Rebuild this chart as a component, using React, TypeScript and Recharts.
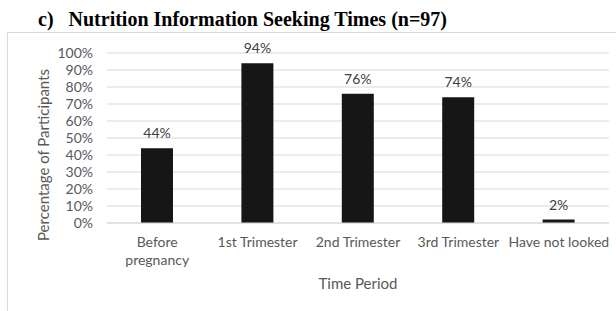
import React from 'react';
import { BarChart, Bar, XAxis, YAxis, CartesianGrid, LabelList } from 'recharts';

const categories = ['Before\npregnancy', '1st Trimester', '2nd Trimester', '3rd Trimester', 'Have not looked'];
const percentages = [44, 94, 76, 74, 2];
const yTicks = [0, 10, 20, 30, 40, 50, 60, 70, 80, 90, 100];

const chartData = categories.map((name, i) => ({ name, value: percentages[i] }));

const FONT = 'Lato, "Open Sans", sans-serif';
const GRAY = '#595959';

const CategoryTick = (props: any) => {
  const { x, y, payload } = props;
  const lines = String(payload.value).split('\n');
  return (
    <text x={x} y={y} textAnchor="middle" fill={GRAY} fontSize={14} fontFamily={FONT}>
      {lines.map((line, i) => (
        <tspan key={i} x={x} dy={i === 0 ? 16 : 18}>
          {line}
        </tspan>
      ))}
    </text>
  );
};

const App = () => {
  return (
    <div style={{ position: 'absolute', left: 0, top: 0, width: 616, height: 311, background: '#fff', overflow: 'hidden' }}>
      <div
        style={{
          position: 'absolute',
          left: 38,
          top: 8,
          fontFamily: '"Liberation Serif", "Times New Roman", serif',
          fontWeight: 'bold',
          fontSize: 20,
          color: '#000',
          whiteSpace: 'pre',
        }}
      >
        {'c)   Nutrition Information Seeking Times (n=97)'}
      </div>
      <div
        style={{
          position: 'absolute',
          left: 7,
          top: 32,
          width: 640,
          height: 320,
          border: '1px solid #d9d9d9',
        }}
      />
      <div style={{ position: 'absolute', left: 0, top: 0 }}>
        <BarChart
          width={616}
          height={311}
          data={chartData}
          margin={{ top: 53, right: 7, bottom: 0, left: 0 }}
          barCategoryGap={0}
        >
          <CartesianGrid vertical={false} stroke="#d9d9d9" />
          <XAxis
            dataKey="name"
            height={88}
            axisLine={{ stroke: '#d9d9d9' }}
            tickLine={false}
            interval={0}
            tick={<CategoryTick />}
            label={{
              content: (p: any) => {
                const vb = p.viewBox;
                return (
                  <text
                    x={vb.x + vb.width / 2}
                    y={vb.y + 66}
                    textAnchor="middle"
                    fill={GRAY}
                    fontSize={15}
                    fontFamily={FONT}
                  >
                    Time Period
                  </text>
                );
              },
            }}
          />
          <YAxis
            width={107}
            domain={[0, 100]}
            ticks={yTicks}
            interval={0}
            axisLine={false}
            tickLine={false}
            tickMargin={8}
            tickFormatter={(v) => `${v}%`}
            tick={{ fill: GRAY, fontSize: 14, fontFamily: FONT }}
            label={{
              content: () => {
                const cx = 49;
                const cy = 155;
                return (
                  <text
                    x={cx}
                    y={cy}
                    transform={`rotate(-90 ${cx} ${cy})`}
                    textAnchor="middle"
                    fill={GRAY}
                    fontSize={15}
                    fontFamily={FONT}
                  >
                    Percentage of Participants
                  </text>
                );
              },
            }}
          />
          <Bar dataKey="value" fill="#161616" barSize={32} isAnimationActive={false}>
            <LabelList
              dataKey="value"
              position="top"
              offset={10}
              formatter={(v: any) => `${v}%`}
              fill="#404040"
              fontSize={14}
              fontFamily={FONT}
            />
          </Bar>
        </BarChart>
      </div>
    </div>
  );
};

export default App;
